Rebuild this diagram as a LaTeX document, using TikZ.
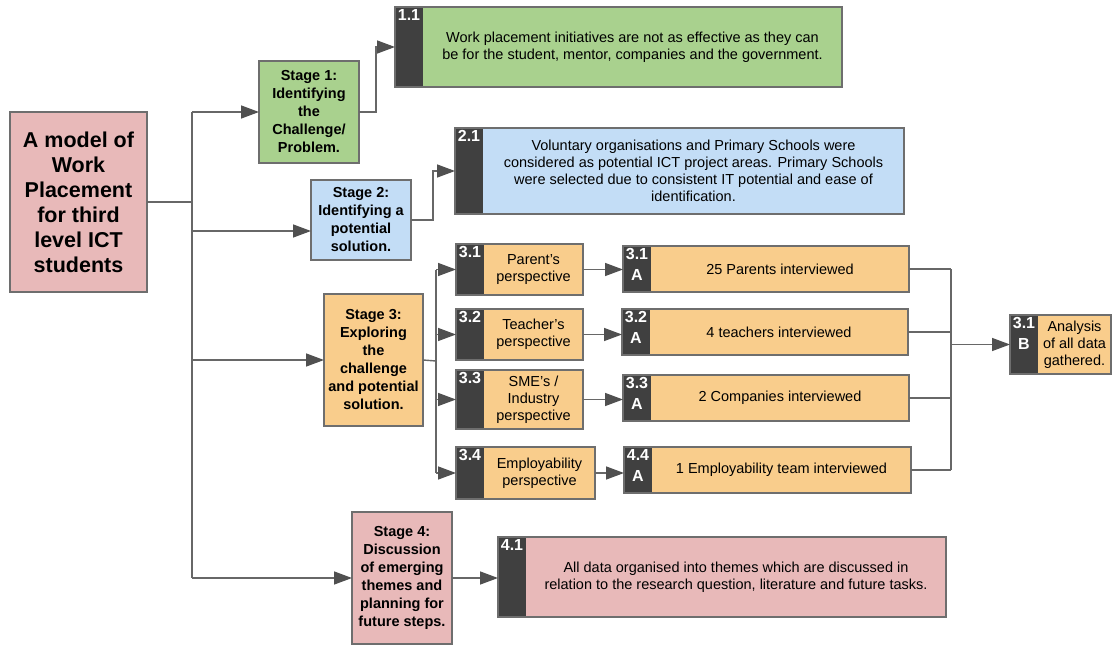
\documentclass[tikz,border=0pt]{standalone}
\usepackage{fontspec}
\setmainfont{Liberation Sans}
\usetikzlibrary{arrows.meta,calc}

\definecolor{linegray}{HTML}{676767}
\definecolor{tipgray}{HTML}{505050}
\definecolor{framegray}{HTML}{6E6E6E}
\definecolor{tabdark}{HTML}{404040}
\definecolor{stgreen}{HTML}{A9D18E}
\definecolor{stblue}{HTML}{C3DDF6}
\definecolor{storange}{HTML}{F9CD8C}
\definecolor{stpink}{HTML}{E8B9B9}

\tikzset{
  x=1pt, y=-1pt,
  frame/.style={draw=framegray, line width=1.4pt, inner sep=0pt, outer sep=0pt},
  stagebox/.style={frame, align=center, font=\bfseries\fontsize{14.5}{18}\selectfont},
  bodytext/.style={align=center, inner sep=0pt, font=\fontsize{14.5}{17}\selectfont},
  tablabel/.style={anchor=north, inner sep=2pt, text=white, align=center,
                   font=\bfseries\fontsize{16}{21}\selectfont},
  link/.style={draw=linegray, line width=1.4pt},
  arr/.style={link, -{Triangle[length=18pt,width=13pt,color=tipgray]}},
}

% simple box given by its corners (x1,y1) (x2,y2)
\newcommand\cornerbox[7]{%
  \node[#6, minimum width={(#4-#2)*1pt}, minimum height={(#5-#3)*1pt}]
    (#1) at ({(#2+#4)/2},{(#3+#5)/2}) {#7};}

% box with a dark numbered tab on its left side
\newcommand\tabbox[8]{%
  \node[frame, fill=#6, minimum width={(#4-#2)*1pt}, minimum height={(#5-#3)*1pt}]
    (#1) at ({(#2+#4)/2},{(#3+#5)/2}) {};
  \fill[tabdark] (#1.north west) rectangle ([xshift=28pt]#1.south west);
  \draw[framegray, line width=1.4pt] (#1.north west) rectangle (#1.south east);
  \node[tablabel] (#1-n) at ([xshift=14pt]#1.north west) {#7};
  \node[bodytext] (#1-t) at ([xshift=14pt]#1.center) {#8};}

\begin{document}
\begin{tikzpicture}
\useasboundingbox[fill=white] (0,0) rectangle (1112,645);

% root
\cornerbox{root}{10}{112}{147}{292}{frame, fill=stpink, align=center,
  font=\bfseries\fontsize{21.5}{25}\selectfont}
  {A model of\\Work\\Placement\\for third\\level ICT\\students}

% stages
\cornerbox{s1}{259}{61}{359}{163}{stagebox, fill=stgreen}
  {Stage 1:\\Identifying\\the\\Challenge/\\Problem.}
\cornerbox{s2}{311}{180}{411}{260}{stagebox, fill=stblue}
  {Stage 2:\\Identifying a\\potential\\solution.}
\cornerbox{s3}{324}{294}{423}{426}{stagebox, fill=storange}
  {Stage 3:\\Exploring\\the\\challenge\\and potential\\solution.}
\cornerbox{s4}{352}{512}{452}{644}{stagebox, fill=stpink}
  {Stage 4:\\Discussion\\of emerging\\themes and\\planning for\\future steps.}

% findings
\tabbox{b11}{395}{7}{842}{87}{stgreen}{1.1}
  {Work placement initiatives are not as effective as they can\\
   be for the student, mentor, companies and the government.}
\tabbox{b21}{455}{128}{904}{214}{stblue}{2.1}
  {\fontsize{14.5}{19}\selectfont Voluntary organisations and Primary Schools were\\
   considered as potential ICT project areas. Primary Schools\\
   were selected due to consistent IT potential and ease of\\
   identification.}

\tabbox{b31}{456}{244}{583}{295}{storange}{3.1}{\fontsize{14.5}{18}\selectfont Parent's\\perspective}
\tabbox{b32}{456}{309}{583}{360}{storange}{3.2}{\fontsize{14.5}{18}\selectfont Teacher's\\perspective}
\tabbox{b33}{456}{370}{583}{429}{storange}{3.3}{\fontsize{14.5}{18}\selectfont SME's /\\Industry\\perspective}
\tabbox{b34}{456}{447}{595}{499}{storange}{3.4}{\fontsize{14.5}{18}\selectfont Employability\\perspective}

\tabbox{b31a}{623}{246}{909}{292}{storange}{3.1\\A}{25 Parents interviewed}
\tabbox{b32a}{622}{309}{908}{355}{storange}{3.2\\A}{4 teachers interviewed}
\tabbox{b33a}{623}{375}{909}{421}{storange}{3.3\\A}{2 Companies interviewed}
\tabbox{b44a}{624}{447}{911}{493}{storange}{4.4\\A}{1 Employability team interviewed}

\tabbox{b31b}{1010}{315}{1111}{374}{storange}{3.1\\B}
  {\fontsize{14.5}{18}\selectfont Analysis\\of all data\\gathered.}

\tabbox{b41}{498}{537}{946}{617}{stpink}{4.1}
  {All data organised into themes which are discussed in\\
   relation to the research question, literature and future tasks.}

% junction points
\coordinate (j1) at (192,203);
\coordinate (j3) at (436,361);
\coordinate (j4) at (951,346);

% root to stages
\draw[link] (root.east) -- (root.east -| j1);
\draw[link] (j1 |- s1.west) -- (j1 |- s4.west);
\draw[arr] (j1 |- s1.west) -- (s1.west);
\draw[arr] ([yshift=-11pt]j1 |- s2.west) -- ([yshift=-11pt]s2.west);
\draw[arr] (j1 |- s3.west) -- (s3.west);
\draw[arr] (j1 |- s4.west) -- (s4.west);

% stage 1 and 2 outputs
\draw[arr] (s1.east) -- ++(17,0) |- (b11.west);
\draw[arr] (s2.east) -- ++(22,0) |- (b21.west);

% stage 3 fan-out
\draw[link] (s3.east) -- (j3);
\draw[link] (j3 |- b31.west) -- (j3 |- b34.west);
\draw[arr] (j3 |- b31.west) -- (b31.west);
\draw[arr] (j3 |- b32.west) -- (b32.west);
\draw[arr] (j3 |- b33.west) -- (b33.west);
\draw[arr] (j3 |- b34.west) -- (b34.west);

\draw[arr] (b31.east) -- (b31.east -| b31a.west);
\draw[arr] (b32.east) -- (b32.east -| b32a.west);
\draw[arr] (b33.east) -- (b33.east -| b33a.west);
\draw[arr] (b34.east) -- (b34.east -| b44a.west);

% collecting the interviews
\draw[link] (b31a.east) -- (b31a.east -| j4);
\draw[link] (b32a.east) -- (b32a.east -| j4);
\draw[link] (b33a.east) -- (b33a.east -| j4);
\draw[link] (b44a.east) -- (b44a.east -| j4);
\draw[link] (j4 |- b31a.east) -- (j4 |- b44a.east);
\draw[arr] (j4 |- b31b.west) -- (b31b.west);

% stage 4 output
\draw[arr] (s4.east) -- (s4.east -| b41.west);
\end{tikzpicture}
\end{document}
